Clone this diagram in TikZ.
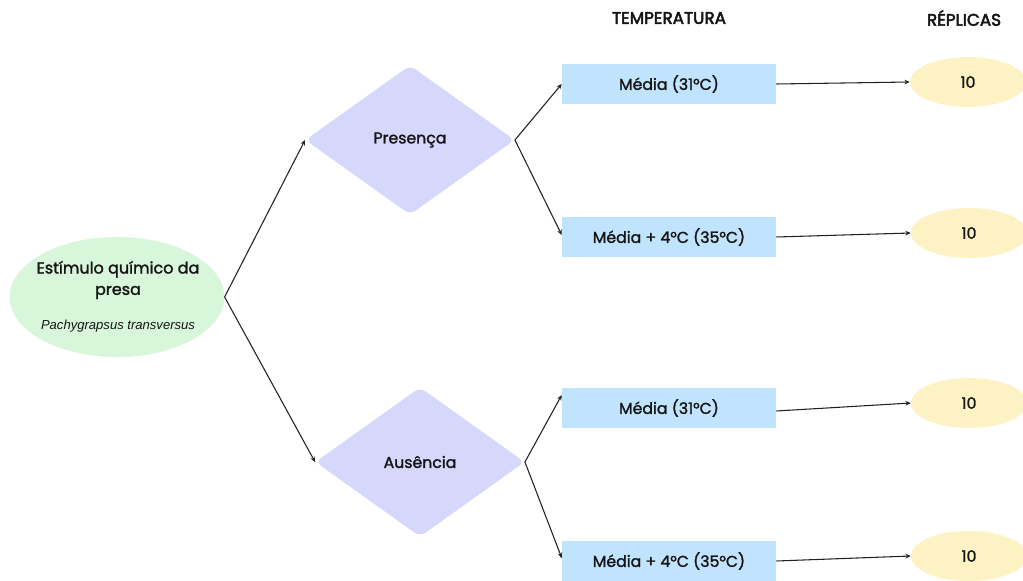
\documentclass[tikz,border=0pt]{standalone}
\usepackage{fontspec}
\setmainfont{Poppins}[FakeBold=1.6]
\newfontfamily\hdrfont{Poppins}[FakeBold=3]
\newfontfamily\italfont{Liberation Sans}
\usetikzlibrary{shapes.geometric,arrows.meta,calc}
\definecolor{cgreen}{HTML}{D8F6D9}
\definecolor{clav}{HTML}{D6D8FB}
\definecolor{cblue}{HTML}{C0E4FD}
\definecolor{cyellow}{HTML}{FCF2C3}
\definecolor{ctext}{HTML}{151515}
\definecolor{carrow}{HTML}{222222}
\begin{document}
\begin{tikzpicture}[x=0.75pt,y=-0.75pt,
  every node/.style={text=ctext, font=\fontsize{11.8}{14}\selectfont},
  greenell/.style={ellipse, fill=cgreen, draw=none, minimum width=161pt, minimum height=90pt, inner sep=0pt},
  choice/.style={diamond, fill=clav, draw=none, minimum width=157pt, minimum height=112pt, inner sep=0pt, rounded corners=5pt},
  tempbox/.style={rectangle, fill=cblue, draw=none, minimum width=160.5pt, minimum height=30.5pt, inner sep=0pt},
  repell/.style={ellipse, fill=cyellow, draw=none, minimum width=87pt, minimum height=37.5pt, inner sep=0pt},
  header/.style={font=\hdrfont\fontsize{12.6}{14}\selectfont},
  conn/.style={draw=carrow, line width=0.8pt, -{Stealth[length=4pt,width=3.5pt]}}
]
\useasboundingbox (0,0) rectangle (1023,581);
\fill[white] (0,0) rectangle (1023,581);

% headers
\node[header] (hT) at (669,18) {TEMPERATURA};
\node[header] (hR) at (964,18) {RÉPLICAS};

% source ellipse
\node[greenell] (src) at (117,297) {};
\node[align=center, font=\fontsize{12}{16}\selectfont] (srct) at (118,280) {Estímulo químico da\\presa};
\node[font=\italfont\itshape\fontsize{9.8}{12}\selectfont] (srci) at (118,326) {Pachygrapsus transversus};

% diamonds
\node[choice] (pres) at (410,140) {Presença};
\node[choice] (aus) at (420,462) {Ausência};

% temperature boxes
\node[tempbox] (b1) at (669,84) {Média (31°C)};
\node[tempbox] (b2) at (669,237) {Média + 4°C (35°C)};
\node[tempbox] (b3) at (669,408) {Média (31°C)};
\node[tempbox] (b4) at (669,561) {Média + 4°C (35°C)};

% replicate ellipses
\node[repell] (r1) at (968,82) {10};
\node[repell] (r2) at (969,233) {10};
\node[repell] (r3) at (969,403) {10};
\node[repell] (r4) at (969,556) {10};

% connectors
\draw[conn] (src.east) -- (pres.west);
\draw[conn] (src.east) -- (aus.west);
\draw[conn] (pres.east) -- (b1.west);
\draw[conn] (pres.east) -- ($(b2.west)+(0,-2)$);
\draw[conn] (aus.east) -- ($(b3.west)+(0,-13)$);
\draw[conn] (aus.east) -- ($(b4.west)+(0,-3)$);
\draw[conn] (b1.east) -- (r1.west);
\draw[conn] (b2.east) -- (r2.west);
\draw[conn] ($(b3.east)+(0,3)$) -- (r3.west);
\draw[conn] (b4.east) -- (r4.west);
\end{tikzpicture}
\end{document}
